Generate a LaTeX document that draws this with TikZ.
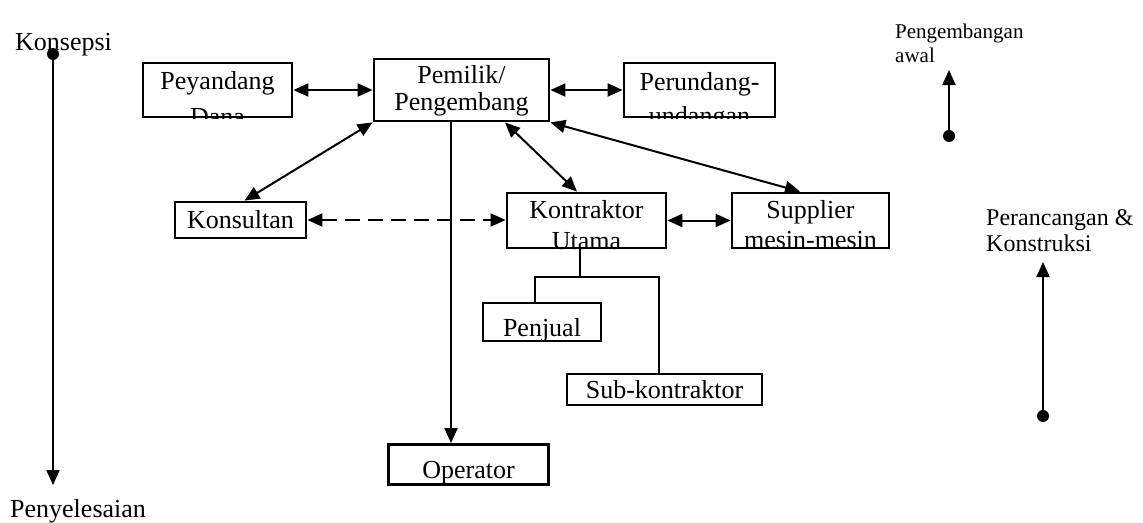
\documentclass[tikz,border=0pt]{standalone}
\usepackage{fontspec}
\setmainfont{Liberation Serif}
\usetikzlibrary{arrows.meta}

\tikzset{
  box/.style={draw=black, line width=2.8pt, rectangle, inner sep=0pt},
  txt/.style={anchor=base, inner sep=0pt, font=\fontsize{26}{30}\selectfont},
  lbl/.style={anchor=base west, inner sep=0pt, font=\fontsize{#1}{#1}\selectfont},
  conn/.style={line width=2pt},
  tip/.style={-{Triangle[length=15pt,width=13pt]}},
  dbl/.style={{Triangle[length=15pt,width=13pt]}-{Triangle[length=15pt,width=13pt]}},
  dashedline/.style={dash pattern=on 15pt off 8pt},
  dot/.style={circle, fill=black, inner sep=0pt, minimum size=12pt},
}

\begin{document}
\begin{tikzpicture}[x=1pt,y=-1pt]
\useasboundingbox (0,0) rectangle (1143,522);

% boxes
\node[box, minimum width=149pt, minimum height=54pt] (dana)    at (217.5,90)  {};
\node[box, minimum width=175pt, minimum height=62pt] (owner)   at (461.5,90)  {};
\node[box, minimum width=151pt, minimum height=54pt] (law)     at (699.5,90)  {};
\node[box, minimum width=131pt, minimum height=36pt] (kons)    at (240.5,220) {};
\node[box, minimum width=159pt, minimum height=55pt] (kontr)   at (586.5,220.5) {};
\node[box, minimum width=157pt, minimum height=55pt] (supp)    at (810.5,220.5) {};
\node[box, minimum width=118pt, minimum height=38pt] (penjual) at (542,322)   {};
\node[box, minimum width=195pt, minimum height=31pt] (sub)     at (664.5,389.5) {};
\node[box, minimum width=160pt, minimum height=40pt] (oper)    at (468.5,464.5) {};

% box texts, clipped to their frames
\begin{scope}
  \clip (dana.south west) rectangle (dana.north east);
  \node[txt] (dana1) at (217.5,89)  {Peyandang};
  \node[txt] (dana2) at (217.5,125) {Dana};
\end{scope}
\begin{scope}
  \clip (owner.south west) rectangle (owner.north east);
  \node[txt] (owner1) at (461.5,83)  {Pemilik/};
  \node[txt] (owner2) at (461.5,110) {Pengembang};
\end{scope}
\begin{scope}
  \clip (law.south west) rectangle (law.north east);
  \node[txt] (law1) at (699.5,90)  {Perundang-};
  \node[txt] (law2) at (699.5,124.5) {undangan};
\end{scope}
\node[txt] (kons1) at (240.5,228) {Konsultan};
\begin{scope}
  \clip (kontr.south west) rectangle (kontr.north east);
  \node[txt] (kontr1) at (586.5,218) {Kontraktor};
  \node[txt] (kontr2) at (586.5,249) {Utama};
\end{scope}
\begin{scope}
  \clip (supp.south west) rectangle (supp.north east);
  \node[txt] (supp1) at (810.5,218) {Supplier};
  \node[txt] (supp2) at (810.5,248) {mesin-mesin};
\end{scope}
\node[txt] (penjual1) at (542,336)   {Penjual};
\node[txt] (sub1)     at (664.5,398) {Sub-kontraktor};
\node[txt] (oper1)    at (468.5,478) {Operator};

% connectors between the parties
\draw[conn,dbl] (dana.east) -- (owner.west);
\draw[conn,dbl] (owner.east |- law.west) -- (law.west);
\draw[conn,dbl] (owner.south west) -- ([xshift=4pt]kons.north);
\draw[conn,dbl] ([xshift=43.5pt]owner.south) -- ([xshift=-9.5pt]kontr.north);
\draw[conn,dbl] (owner.south east) -- ([xshift=-10.5pt]supp.north);
\draw[conn,tip] ([xshift=-10.5pt]owner.south) -- ([xshift=-10.5pt]owner.south |- oper.north);
\draw[conn,dbl,dashedline] (kons.east) -- (kontr.west |- kons.east);
\draw[conn,dbl] (kontr.east) -- (supp.west);

% contractor tree
\coordinate (stem) at (580,277);
\coordinate (jl) at (535,277);
\coordinate (jr) at (659,277);
\draw[conn] (kontr.south -| stem) -- (stem);
\draw[conn] (penjual.north -| jl) -- (jl) -- (jr) -- (sub.north -| jr);

% phase timelines
\node[lbl=26] (konsepsi) at (15,50) {Konsepsi};
\node[dot] (d1) at (53,54) {};
\coordinate (e1) at (53,485);
\draw[conn,tip] (d1.center) -- (e1);
\node[lbl=26] (selesai) at (10,517) {Penyelesaian};

\node[lbl=21] (awal1) at (895,38) {Pengembangan};
\node[lbl=21] (awal2) at (895,62) {awal};
\node[dot] (d2) at (949,136) {};
\coordinate (e2) at (949,70);
\draw[conn,tip] (d2.center) -- (e2);

\node[lbl=24] (rk1) at (986,225) {Perancangan \&};
\node[lbl=24] (rk2) at (986,251) {Konstruksi};
\node[dot] (d3) at (1043,416) {};
\coordinate (e3) at (1043,262);
\draw[conn,tip] (d3.center) -- (e3);
\end{tikzpicture}
\end{document}
